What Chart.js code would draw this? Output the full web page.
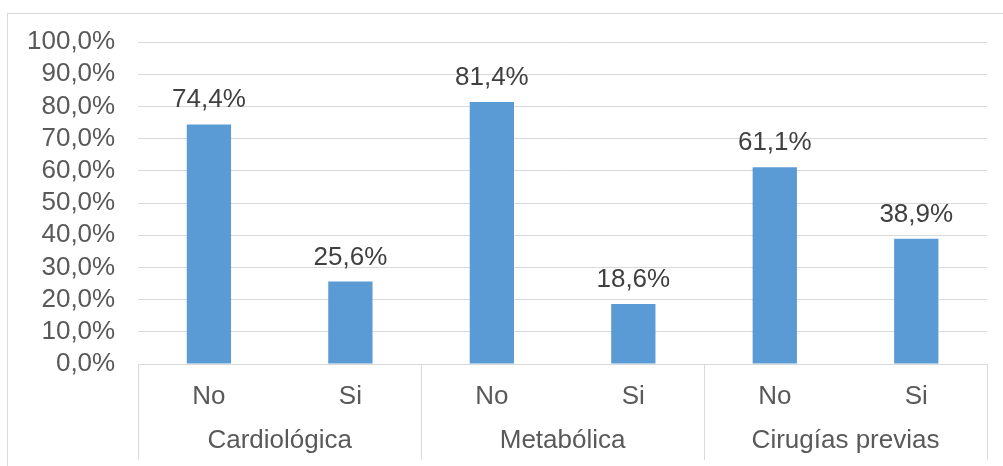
<!DOCTYPE html>
<html lang="es">
<head>
    <meta charset="UTF-8">
    <title>Antecedentes</title>
    <script src="https://cdn.jsdelivr.net/npm/chart.js"></script>
    <style>
        html, body { margin: 0; padding: 0; background: #fff; overflow: hidden; }
        .frame {
            position: absolute;
            left: 7px;
            top: 13px;
            width: 1100px;
            height: 600px;
            border: 1px solid #d9d9d9;
        }
        .chart-container {
            position: absolute;
            left: 0;
            top: 0;
            width: 1003px;
            height: 466px;
        }
    </style>
</head>
<body>
    <div class="frame"></div>
    <div class="chart-container">
        <canvas id="chart" width="1003" height="466"></canvas>
    </div>

    <script>
        // data
        const answers = ['No', 'Si', 'No', 'Si', 'No', 'Si'];
        const groups = ['Cardiológica', 'Metabólica', 'Cirugías previas'];
        const percents = [74.4, 25.6, 81.4, 18.6, 61.1, 38.9];
        const yTicks = [0, 10, 20, 30, 40, 50, 60, 70, 80, 90, 100];

        const fmt = v => v.toFixed(1).replace('.', ',') + '%';
        const textColor = '#595959';
        const lineColor = '#d9d9d9';
        const font = { family: 'Liberation Sans, Arial, sans-serif', size: 26 };

        // value labels above the bars
        const barLabels = {
            id: 'barLabels',
            afterDatasetsDraw(chart) {
                const c = chart.ctx;
                const meta = chart.getDatasetMeta(0);
                c.save();
                c.font = '26px "Liberation Sans", Arial, sans-serif';
                c.fillStyle = '#404040';
                c.textAlign = 'center';
                c.textBaseline = 'alphabetic';
                meta.data.forEach((bar, i) => {
                    c.fillText(fmt(chart.data.datasets[0].data[i]), bar.x, bar.y - 17);
                });
                c.restore();
            }
        };

        new Chart(document.getElementById('chart'), {
            type: 'bar',
            data: {
                labels: answers,
                datasets: [{
                    data: percents,
                    backgroundColor: '#5b9bd5',
                    borderWidth: 0,
                    barPercentage: 0.313,
                    categoryPercentage: 1.0
                }]
            },
            options: {
                responsive: false,
                animation: false,
                layout: { padding: { left: 4, right: 16, top: 42, bottom: 99.6 } },
                plugins: {
                    legend: { display: false },
                    tooltip: { enabled: false }
                },
                scales: {
                    y: {
                        min: 0,
                        max: 100,
                        afterBuildTicks: axis => { axis.ticks = yTicks.map(v => ({ value: v })); },
                        border: { display: false },
                        grid: { color: lineColor, drawTicks: false },
                        ticks: {
                            color: textColor,
                            font: font,
                            padding: 23,
                            autoSkip: false,
                            callback: v => fmt(v)
                        }
                    },
                    // No / Si row; its tick marks double as the group separators
                    x: {
                        offset: true,
                        border: { display: false },
                        grid: {
                            offset: true,
                            drawOnChartArea: false,
                            tickLength: 96,
                            color: ctx => (ctx.index === undefined || ctx.index % 2 === 0) ? lineColor : 'rgba(0,0,0,0)'
                        },
                        ticks: {
                            color: textColor,
                            font: font,
                            mirror: true,
                            padding: -48,
                            autoSkip: false,
                            maxRotation: 0
                        }
                    },
                    // group row
                    x2: {
                        type: 'category',
                        position: 'bottom',
                        labels: groups,
                        offset: true,
                        border: { display: false },
                        grid: { display: false, drawTicks: true, tickLength: 187.6 },
                        ticks: {
                            color: textColor,
                            font: font,
                            mirror: true,
                            padding: -92.6,
                            autoSkip: false,
                            maxRotation: 0
                        }
                    }
                }
            },
            plugins: [barLabels]
        });
    </script>
</body>
</html>
